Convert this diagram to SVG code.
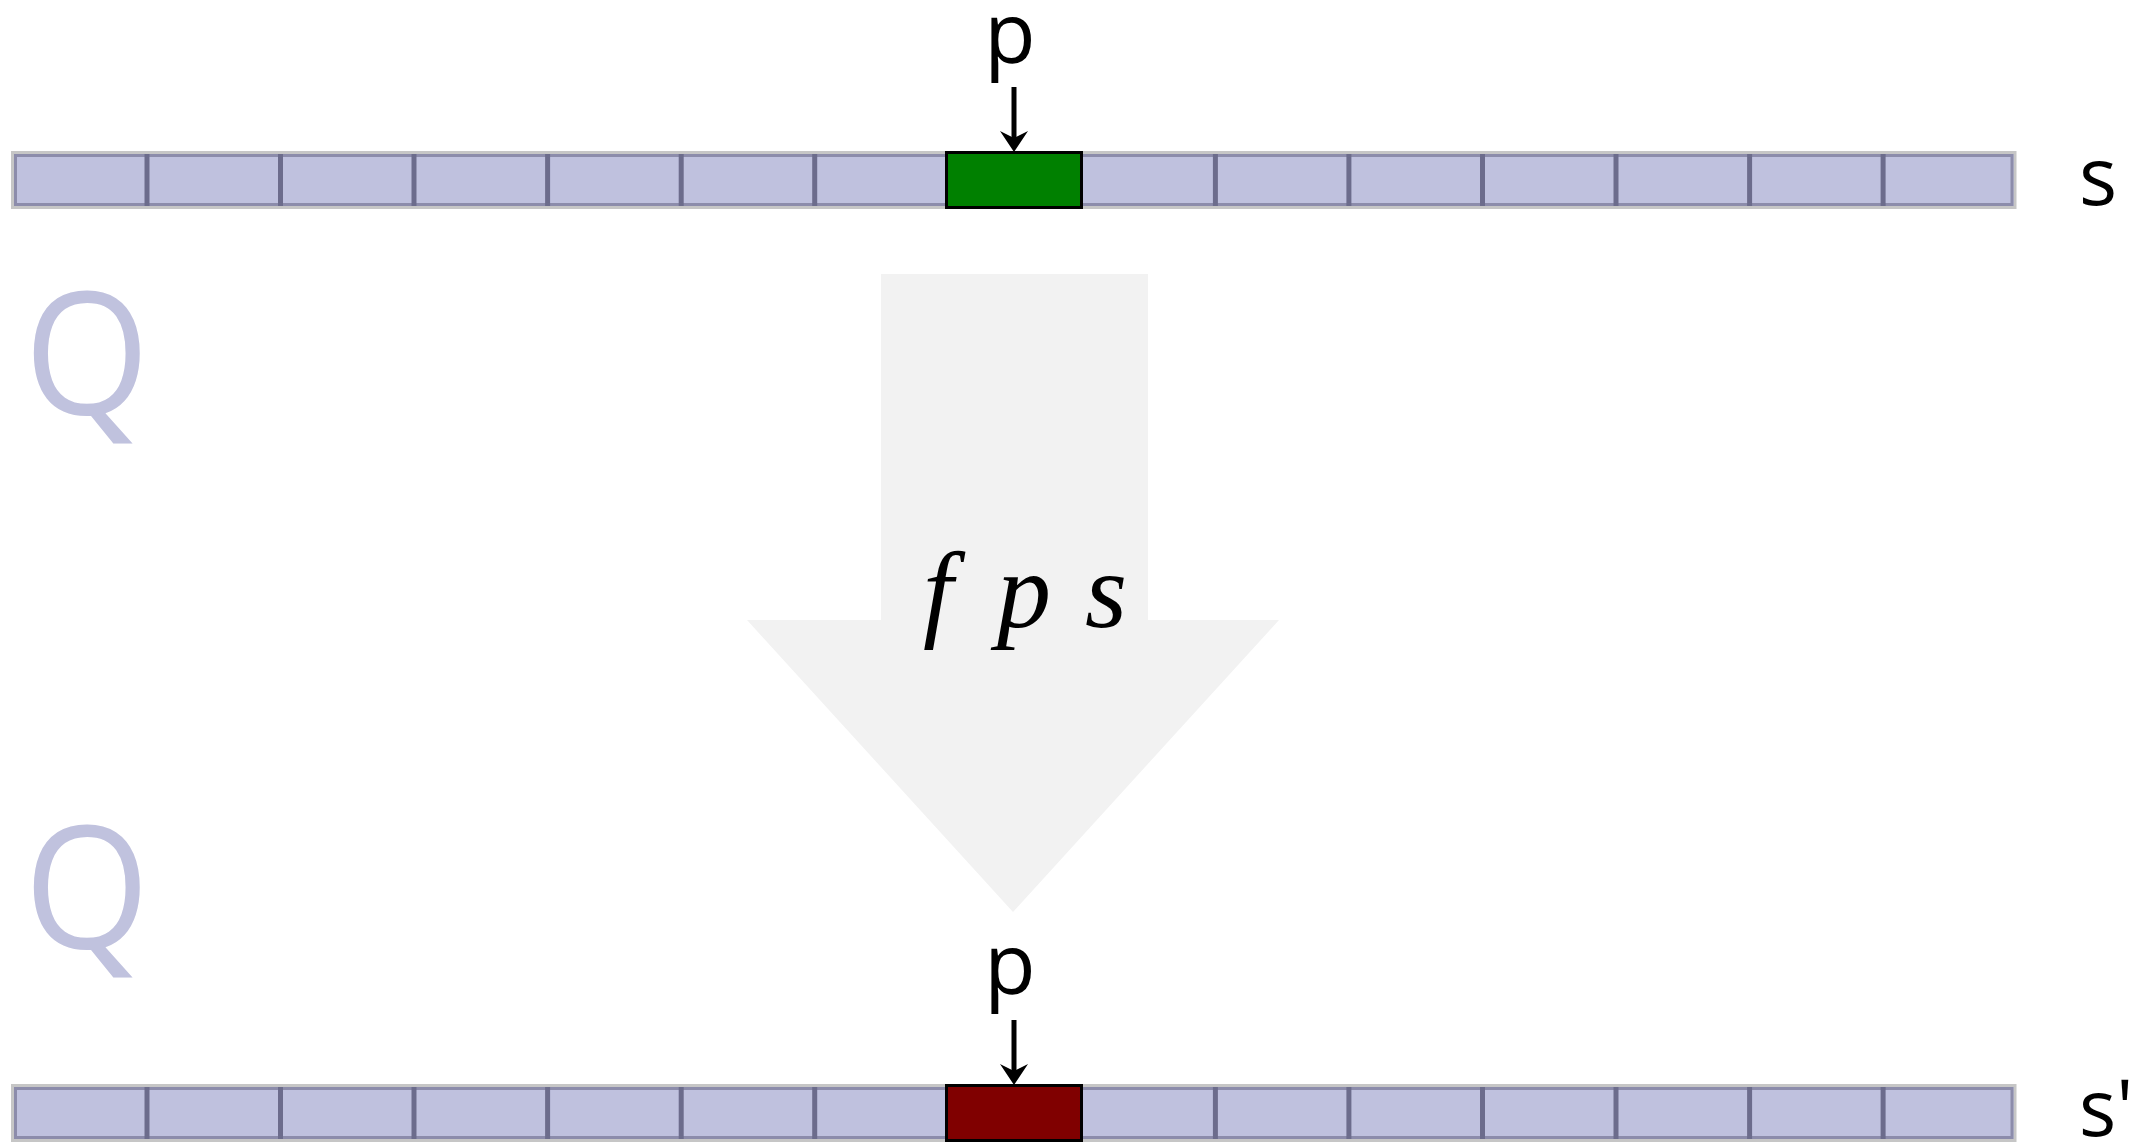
<svg xmlns="http://www.w3.org/2000/svg" width="2138" height="1146" viewBox="0 0 2138 1146">
<style>
.bar{fill:#bfc1de;stroke:#c6c6c6;stroke-width:3}
.inner{fill:none;stroke:#8c8cab;stroke-width:3}
.div{stroke:#6c6c8c;stroke-width:5}
.lbl{font-family:"Open Sans","DejaVu Sans",sans-serif;fill:#000}
.q{font-family:"Open Sans","DejaVu Sans",sans-serif;fill:#c0c2de;font-size:170px}
.math{font-family:'Liberation Serif',serif;font-style:italic;font-size:108px;fill:#000;text-anchor:middle}
.ptr{stroke:#000;stroke-width:5}
</style>
<defs>
<g id="cells">
<rect class="bar" x="12.5" y="152.5" width="2002.5" height="55"/>
<rect class="inner" x="15.5" y="155.5" width="1996.5" height="49"/>
<line class="div" x1="147" y1="154" x2="147" y2="206"/>
<line class="div" x1="280.5" y1="154" x2="280.5" y2="206"/>
<line class="div" x1="414" y1="154" x2="414" y2="206"/>
<line class="div" x1="547.6" y1="154" x2="547.6" y2="206"/>
<line class="div" x1="681.2" y1="154" x2="681.2" y2="206"/>
<line class="div" x1="814.7" y1="154" x2="814.7" y2="206"/>
<line class="div" x1="1215.4" y1="154" x2="1215.4" y2="206"/>
<line class="div" x1="1348.9" y1="154" x2="1348.9" y2="206"/>
<line class="div" x1="1482.5" y1="154" x2="1482.5" y2="206"/>
<line class="div" x1="1616" y1="154" x2="1616" y2="206"/>
<line class="div" x1="1749.6" y1="154" x2="1749.6" y2="206"/>
<line class="div" x1="1883.1" y1="154" x2="1883.1" y2="206"/>
</g>
</defs>
<g id="transform-arrow">
<polygon points="881,274 1148,274 1148,620 1279,620 1013,912 747,620 881,620" fill="#f2f2f2"/>
<text class="math" x="938" y="627">f</text>
<text class="math" x="1024" y="627">p</text>
<text class="math" x="1106" y="627">s</text>
</g>
<g id="q-top"><text class="q" x="24" y="414" transform="translate(24,0) scale(0.95,1) translate(-24,0)">Q</text></g>
<g id="q-bottom"><text class="q" x="24" y="948" transform="translate(24,0) scale(0.95,1) translate(-24,0)">Q</text></g>
<g id="tape-s">
<use href="#cells"/>
<rect x="946.5" y="152.5" width="135" height="55" fill="#008000" stroke="#000" stroke-width="3"/>
<text class="lbl" x="2079" y="205" font-size="80">s</text>
</g>
<g id="tape-s2">
<use href="#cells" transform="translate(0,933)"/>
<rect x="946.5" y="1085.5" width="135" height="55" fill="#800000" stroke="#000" stroke-width="3"/>
<text class="lbl" x="2079" y="1136" font-size="78">s'</text>
</g>
<g id="label-p-top"><text class="lbl" x="1010" y="63" font-size="84" text-anchor="middle">p</text></g>
<g id="label-p-bottom"><text class="lbl" x="1010" y="994" font-size="84" text-anchor="middle">p</text></g>
<g id="connectors">
<line class="ptr" x1="1014" y1="87" x2="1014" y2="140"/>
<polygon points="1014,152 1000,131 1014,138 1028,131"/>
<line class="ptr" x1="1014" y1="1020" x2="1014" y2="1073"/>
<polygon points="1014,1085 1000,1064 1014,1071 1028,1064"/>
</g>
</svg>
